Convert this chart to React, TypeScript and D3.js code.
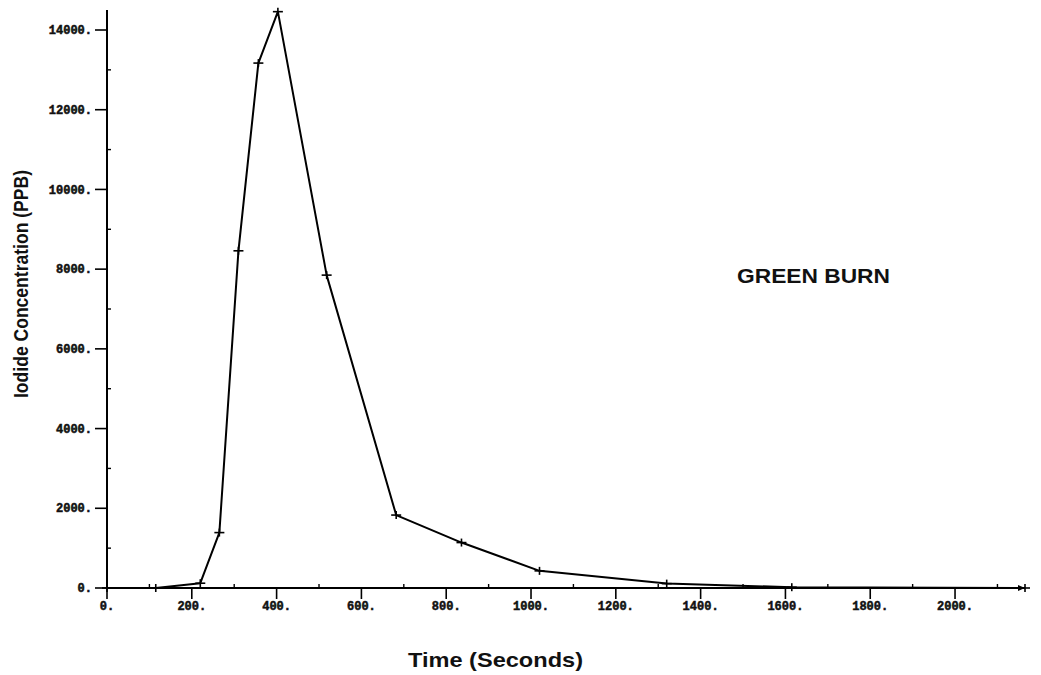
import React from "react";
import * as d3 from "d3";

const times = [0, 115, 220, 265, 310, 357, 403, 518, 682, 836, 1020, 1320, 1615, 2165];
const values = [0, 0, 120, 1390, 8460, 13170, 14460, 7850, 1830, 1140, 430, 110, 20, 0];
const xMajor = [0, 200, 400, 600, 800, 1000, 1200, 1400, 1600, 1800, 2000];
const xMinor = [100, 300, 500, 700, 900, 1100, 1300, 1500, 1700, 1900, 2100];
const yMajor = [0, 2000, 4000, 6000, 8000, 10000, 12000, 14000];
const yMinor = [1000, 3000, 5000, 7000, 9000, 11000, 13000];
const xLabels = ["0.", "200.", "400.", "600.", "800.", "1000.", "1200.", "1400.", "1600.", "1800.", "2000."];
const yLabels = ["0.", "2000.", "4000.", "6000.", "8000.", "10000.", "12000.", "14000."];
const title = "GREEN BURN";
const xTitle = "Time (Seconds)";
const yTitle = "Iodide Concentration (PPB)";

export default function App() {
  const W = 1041, H = 675;
  const x = d3.scaleLinear().domain([0, 2165]).range([107, 1025]);
  const y = d3.scaleLinear().domain([0, 14000]).range([588, 30]);
  const line = d3.line<number>().x((_, i) => x(times[i])).y((v) => y(v));
  const tickFont = "'Liberation Mono', 'DejaVu Sans Mono', monospace";
  const sans = "'Liberation Sans', Arial, sans-serif";
  return (
    <svg width={W} height={H} style={{ position: "absolute", left: 0, top: 0, background: "#fff" }}>
      <rect width={W} height={H} fill="#fff" />
      {/* axes */}
      <line x1={x(0)} x2={x(0)} y1={y(14500)} y2={y(0)} stroke="#000" strokeWidth={2} />
      <line x1={x(0)} x2={x(2165)} y1={y(0)} y2={y(0)} stroke="#000" strokeWidth={2} />
      <path d={`M${x(2165)},${y(0)} l-7,-3 l0,6 z`} fill="#000" />
      {yMajor.map((v, i) => (
        <g key={"ym" + v}>
          <line x1={x(0) - 12} x2={x(0)} y1={y(v)} y2={y(v)} stroke="#000" strokeWidth={1.6} />
          <text x={x(0) - 15} y={y(v)} dy="0.35em" textAnchor="end" fontFamily={tickFont} fontWeight="bold" fontSize={12} stroke="#111" strokeWidth={0.5} fill="#111">{yLabels[i]}</text>
        </g>
      ))}
      {yMinor.map((v) => (
        <line key={"yn" + v} x1={x(0)} x2={x(0) + 4} y1={y(v)} y2={y(v)} stroke="#000" strokeWidth={1.4} />
      ))}
      {xMajor.map((v, i) => (
        <g key={"xm" + v}>
          <line x1={x(v)} x2={x(v)} y1={y(0)} y2={y(0) + 11} stroke="#000" strokeWidth={1.6} />
          <text x={x(v)} y={y(0) + 22} textAnchor="middle" fontFamily={tickFont} fontWeight="bold" fontSize={12} stroke="#111" strokeWidth={0.5} fill="#111">{xLabels[i]}</text>
        </g>
      ))}
      {xMinor.map((v) => (
        <line key={"xn" + v} x1={x(v)} x2={x(v)} y1={y(0) - 4} y2={y(0)} stroke="#000" strokeWidth={1.4} />
      ))}
      {/* data line */}
      <path d={line(values) || ""} fill="none" stroke="#000" strokeWidth={2} strokeLinejoin="round" />
      {values.map((v, i) => (
        <g key={"p" + i} stroke="#000" strokeWidth={1.6}>
          <line x1={x(times[i]) - 5} x2={x(times[i]) + 5} y1={y(v)} y2={y(v)} />
          <line x1={x(times[i])} x2={x(times[i])} y1={y(v) - 4} y2={y(v) + 4} />
        </g>
      ))}
      {/* texts */}
      <text x={737} y={283} fontFamily={sans} fontWeight="bold" fontSize={21} textLength={153} lengthAdjust="spacingAndGlyphs" fill="#111">{title}</text>
      <text x={408} y={667} fontFamily={sans} fontWeight="bold" fontSize={21} textLength={175} lengthAdjust="spacingAndGlyphs" fill="#111">{xTitle}</text>
      <text transform={`translate(28,284) rotate(-90)`} textAnchor="middle" fontFamily={sans} fontWeight="bold" fontSize={21} textLength={228} lengthAdjust="spacingAndGlyphs" fill="#111">{yTitle}</text>
    </svg>
  );
}
